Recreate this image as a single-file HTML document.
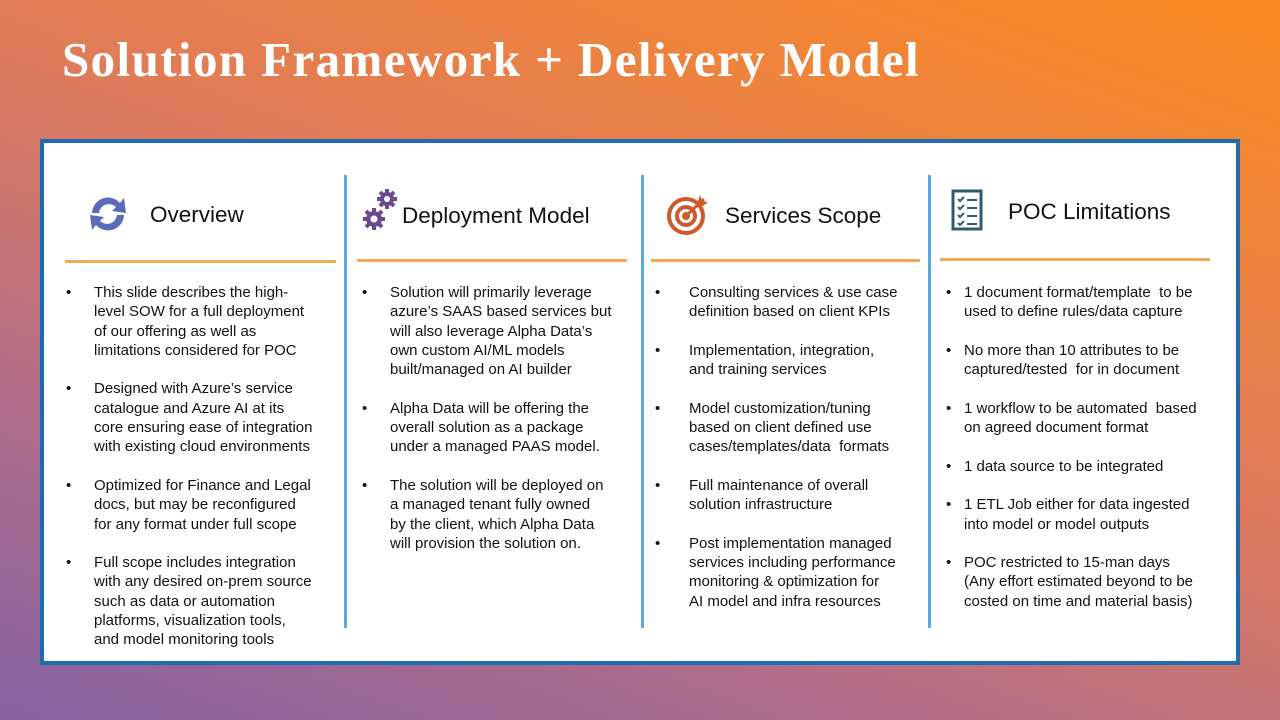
<!DOCTYPE html>
<html><head><meta charset="utf-8"><style>
*{margin:0;padding:0;box-sizing:border-box}
body{width:1280px;height:720px;overflow:hidden;position:relative;font-family:"Liberation Sans",sans-serif;
background:linear-gradient(20deg,#8462a2 0%,#b56e86 30%,#dc7a5e 55%,#f0843a 80%,#f7891f 100%);}
.title{position:absolute;left:62px;top:31px;font-family:"Liberation Serif",serif;font-weight:bold;font-size:49px;color:#fff;white-space:nowrap;letter-spacing:1.4px}
.box{position:absolute;left:40px;top:139px;width:1200px;height:526px;background:#fff;border:4px solid #1d6db0}
.div{position:absolute;top:175px;width:3px;height:453px;background:#5aa8de}
.ol{position:absolute;height:3px;background:#f0a852}
.h{position:absolute;font-size:22.5px;color:#111;white-space:nowrap}
ul{position:absolute;list-style:none;font-size:15px;line-height:19.3px;color:#111}
li{position:relative;margin-bottom:19.3px;white-space:nowrap}
li:before{content:"•";position:absolute;left:var(--b)}
</style></head><body>
<div class="title">Solution Framework + Delivery Model</div>
<div class="box"></div>
<div class="div" style="left:344px"></div>
<div class="div" style="left:641px"></div>
<div class="div" style="left:928px"></div>
<div class="ol" style="left:65px;top:260px;width:271px"></div>
<div class="ol" style="left:357px;top:259px;width:270px"></div>
<div class="ol" style="left:651px;top:259px;width:269px"></div>
<div class="ol" style="left:940px;top:258px;width:270px"></div>

<svg style="position:absolute;left:84px;top:193px" width="48" height="42" viewBox="0 0 48 42">
<path d="M8 20 A16 16 0 0 1 36 10 L40 5 L42 20 L28 18 L32 14 A10 10 0 0 0 15 20 Z" fill="#5b6bbb"/>
<path d="M40 22 A16 16 0 0 1 12 32 L8 37 L6 22 L20 24 L16 28 A10 10 0 0 0 33 22 Z" fill="#5b6bbb"/>
</svg>
<div class="h" style="left:150px;top:202px">Overview</div>

<svg style="position:absolute;left:362px;top:188px" width="38" height="44" viewBox="0 0 38 44">
<g fill="#6a4a8c"><circle cx="25" cy="11" r="7"/><circle cx="12" cy="31" r="8"/>
<g stroke="#6a4a8c" stroke-width="4"><path d="M25 1v20M15 11h20M18 4l14 14M32 4L18 18"/><path d="M12 20v22M1 31h22M4 23l16 16M20 23L4 39"/></g></g>
<circle cx="25" cy="11" r="3" fill="#fff"/><circle cx="12" cy="31" r="3.5" fill="#fff"/>
</svg>
<div class="h" style="left:402px;top:203px">Deployment Model</div>

<svg style="position:absolute;left:666px;top:193px" width="46" height="44" viewBox="0 0 46 44">
<g fill="none" stroke="#d0582a" stroke-width="4"><circle cx="20" cy="23" r="17"/><circle cx="20" cy="23" r="9"/></g>
<circle cx="20" cy="23" r="4" fill="#d0582a"/><path d="M20 23L38 6" stroke="#d0582a" stroke-width="3"/><path d="M34 2l2 6 6 1-5 4-6-2z" fill="#d0582a"/>
</svg>
<div class="h" style="left:725px;top:203px">Services Scope</div>

<svg style="position:absolute;left:951px;top:189px" width="34" height="42" viewBox="0 0 34 42">
<rect x="2" y="2" width="28" height="38" fill="none" stroke="#2e5c6a" stroke-width="3"/>
<g stroke="#2e5c6a" stroke-width="2" fill="none"><path d="M7 10l2 2 4-4M7 18l2 2 4-4M7 26l2 2 4-4M7 34l2 2 4-4"/><path d="M16 11h10M16 19h10M16 27h10M16 35h10"/></g>
</svg>
<div class="h" style="left:1008px;top:199px">POC Limitations</div>

<ul style="left:94px;top:283px;--b:-28px">
<li>This slide describes the high-<br>level SOW for a full deployment<br>of our offering as well as<br>limitations considered for POC</li>
<li>Designed with Azure’s service<br>catalogue and Azure AI at its<br>core ensuring ease of integration<br>with existing cloud environments</li>
<li>Optimized for Finance and Legal<br>docs, but may be reconfigured<br>for any format under full scope</li>
<li>Full scope includes integration<br>with any desired on-prem source<br>such as data or automation<br>platforms, visualization tools,<br>and model monitoring tools</li>
</ul>
<ul style="left:390px;top:283px;--b:-28px">
<li>Solution will primarily leverage<br>azure’s SAAS based services but<br>will also leverage Alpha Data’s<br>own custom AI/ML models<br>built/managed on AI builder</li>
<li>Alpha Data will be offering the<br>overall solution as a package<br>under a managed PAAS model.</li>
<li>The solution will be deployed on<br>a managed tenant fully owned<br>by the client, which Alpha Data<br>will provision the solution on.</li>
</ul>
<ul style="left:689px;top:283px;--b:-34px">
<li>Consulting services &amp; use case<br>definition based on client KPIs</li>
<li>Implementation, integration,<br>and training services</li>
<li>Model customization/tuning<br>based on client defined use<br>cases/templates/data &nbsp;formats</li>
<li>Full maintenance of overall<br>solution infrastructure</li>
<li>Post implementation managed<br>services including performance<br>monitoring &amp; optimization for<br>AI model and infra resources</li>
</ul>
<ul style="left:964px;top:283px;--b:-18px">
<li>1 document format/template &nbsp;to be<br>used to define rules/data capture</li>
<li>No more than 10 attributes to be<br>captured/tested &nbsp;for in document</li>
<li>1 workflow to be automated &nbsp;based<br>on agreed document format</li>
<li>1 data source to be integrated</li>
<li>1 ETL Job either for data ingested<br>into model or model outputs</li>
<li>POC restricted to 15-man days<br>(Any effort estimated beyond to be<br>costed on time and material basis)</li>
</ul>
</body></html>
